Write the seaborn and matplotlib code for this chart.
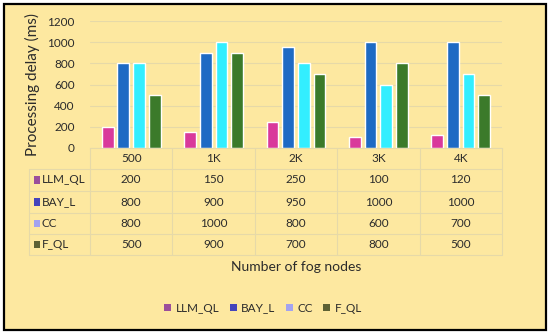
import pandas as pd
import seaborn as sns
import matplotlib.pyplot as plt
from matplotlib.patches import Patch, Rectangle

# chart values
nodes = ['500', '1K', '2K', '3K', '4K']
methods = ['LLM_QL', 'BAY_L', 'CC', 'F_QL']
llm_ql = [200, 150, 250, 100, 120]
bay_l = [800, 900, 950, 1000, 1000]
cc = [800, 1000, 800, 600, 700]
f_ql = [500, 900, 700, 800, 500]
yticks = [0, 200, 400, 600, 800, 1000, 1200]

series = [llm_ql, bay_l, cc, f_ql]
df = pd.DataFrame({
    'nodes': [n for s in series for n in nodes],
    'method': [m for m in methods for _ in nodes],
    'delay': [v for s in series for v in s],
})

bar_colors = ['#D9399B', '#1E6AC4', '#33EEFF', '#3B7A2A']
key_colors = ['#9B4F9B', '#4444BB', '#A3A3F0', '#5D6134']
bg = '#FDE8A0'
line_c = '#E6D9A8'
text_c = '#2B2B2B'

sns.set_style('white')
plt.rcParams['font.family'] = ['Lato', 'DejaVu Sans']

fig = plt.figure(figsize=(5.5, 3.34), dpi=100, facecolor='white')
fig.patches.append(Rectangle((0.008, 0.012), 0.984, 0.976, transform=fig.transFigure,
                             facecolor=bg, edgecolor='black', linewidth=1.6, zorder=-1))
ax = fig.add_axes([0.1636, 0.5569, 0.7491, 0.3802])
ax.set_facecolor(bg)

sns.barplot(data=df, x='nodes', y='delay', hue='method', order=nodes, hue_order=methods,
            palette=bar_colors, width=0.76, gap=0.25, saturation=1, legend=False, ax=ax)

ax.set_ylim(0, 1200)
ax.set_xlim(-0.5, len(nodes) - 0.5)
ax.set_yticks(yticks)
ax.yaxis.grid(True, color=line_c, linewidth=0.8)
ax.set_axisbelow(True)
ax.tick_params(axis='y', length=0, pad=11, labelsize=8.5, labelcolor=text_c)
ax.set_xticks([])
ax.set_xlabel('')
ax.set_ylabel('Processing delay (ms)', fontsize=11, color=text_c, labelpad=5)
for side in ['top', 'right', 'left']:
    ax.spines[side].set_visible(False)
ax.spines['bottom'].set_color(line_c)

# data table under the axis
tr = ax.get_xaxis_transform()
row_edges = [0, -0.165, -0.339, -0.512, -0.677, -0.843]
row_mid = [(row_edges[i] + row_edges[i + 1]) / 2 for i in range(5)]
left = -1.24
for y in row_edges[1:]:
    ax.plot([left, len(nodes) - 0.5], [y, y], transform=tr, color=line_c, lw=0.8, clip_on=False)
for k in range(len(nodes) + 1):
    ax.plot([k - 0.5, k - 0.5], [0, row_edges[-1]], transform=tr, color=line_c, lw=0.8, clip_on=False)
ax.plot([left, left], [row_edges[1], row_edges[-1]], transform=tr, color=line_c, lw=0.8, clip_on=False)

for k, n in enumerate(nodes):
    ax.text(k, row_mid[0], n, transform=tr, ha='center', va='center', fontsize=8.5, color=text_c)
for r, (m, s) in enumerate(zip(methods, series)):
    y = row_mid[r + 1]
    ax.add_patch(Rectangle((-1.175, y - 0.028), 0.07, 0.056, transform=tr,
                           facecolor=key_colors[r], edgecolor='none', clip_on=False))
    ax.text(-1.085, y, m, transform=tr, ha='left', va='center', fontsize=8.5, color=text_c)
    for k, v in enumerate(s):
        ax.text(k, y, str(v), transform=tr, ha='center', va='center', fontsize=8.5, color=text_c)

ax.text(0.5, -0.937, 'Number of fog nodes', transform=ax.transAxes, ha='center', va='center',
        fontsize=10, color=text_c)

handles = [Patch(facecolor=c, edgecolor='none', label=m) for c, m in zip(key_colors, methods)]
fig.legend(handles=handles, loc='center', bbox_to_anchor=(263 / 550, 1 - 308 / 334), ncol=4,
           frameon=False, fontsize=8.5, handlelength=0.6, handleheight=0.6, handletextpad=0.35,
           columnspacing=0.9, labelcolor=text_c)

plt.savefig('out.png', dpi=100, facecolor='white')
